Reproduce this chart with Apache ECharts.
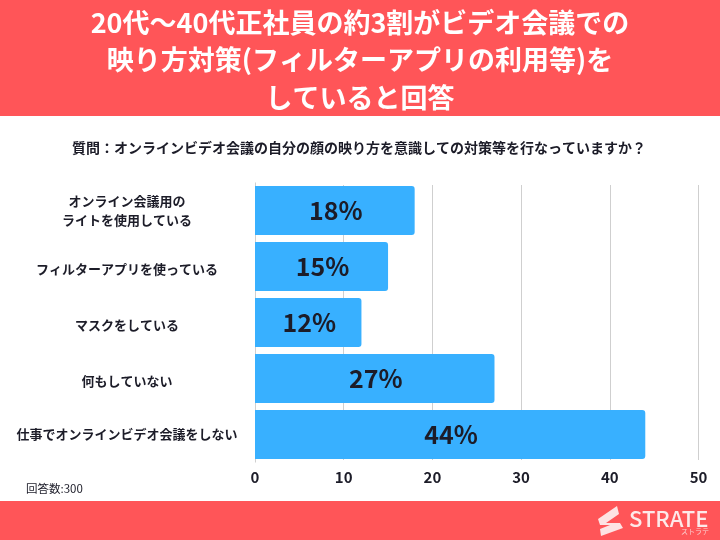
<!DOCTYPE html>
<html>
<head>
<meta charset="utf-8">
<script src="https://cdn.jsdelivr.net/npm/echarts@6/dist/echarts.min.js"></script>
<style>
  html, body { margin: 0; padding: 0; background: #fff; }
  #chart { width: 720px; height: 540px; }
</style>
</head>
<body>
<div id="chart"></div>
<script>
var categories = ['オンライン会議用の\nライトを使用している', 'フィルターアプリを使っている', 'マスクをしている', '何もしていない', '仕事でオンラインビデオ会議をしない']
var values = [18, 15, 12, 27, 44]
var titleText = '20代〜40代正社員の約3割がビデオ会議での\n映り方対策(フィルターアプリの利用等)を\nしていると回答'
var questionText = '質問：オンラインビデオ会議の自分の顔の映り方を意識しての対策等を行なっていますか？'
var noteText = '回答数:300'

var jp = '"Noto Sans CJK JP", sans-serif'
var dark = '#1c1c28'
var red = '#ff5558'

var chart = echarts.init(document.getElementById('chart'), null, { renderer: 'canvas' })

// 真ん中の3つのラベルは少し下げる
var categoryData = categories.map(function (name, i) {
  if (i >= 1 && i <= 3) {
    return { value: name, textStyle: { align: 'center', verticalAlign: 'top', lineHeight: 5 } }
  }
  return name
})

chart.setOption({
  backgroundColor: '#fff',
  animation: false,
  grid: { left: 255, right: 21.5, top: 182.5, bottom: 77.5, outerBoundsMode: 'none' },
  xAxis: {
    type: 'value',
    min: 0,
    max: 50,
    interval: 10,
    axisLine: { show: false },
    axisTick: { show: false },
    axisLabel: { color: dark, fontFamily: jp, fontWeight: 'bold', fontSize: 15, margin: 7 },
    splitLine: { lineStyle: { color: '#cfcfcf', width: 1 } }
  },
  yAxis: {
    type: 'category',
    inverse: true,
    data: categoryData,
    axisLine: { show: false },
    axisTick: { show: false },
    axisLabel: {
      color: dark,
      fontFamily: jp,
      fontWeight: 'bold',
      fontSize: 13,
      lineHeight: 19,
      align: 'center',
      margin: 128
    }
  },
  series: [{
    type: 'bar',
    data: values,
    barWidth: 49,
    itemStyle: { color: '#38b0ff', borderRadius: [0, 3, 3, 0] },
    label: {
      show: true,
      position: 'inside',
      offset: [1, 0],
      formatter: '{c}%',
      color: dark,
      fontFamily: jp,
      fontWeight: 'bold',
      fontSize: 25
    }
  }],
  graphic: [
    { type: 'rect', z: -1, shape: { x: 0, y: 0, width: 720, height: 116 }, style: { fill: red } },
    { type: 'rect', z: -1, shape: { x: 0, y: 501, width: 720, height: 39 }, style: { fill: red } },
    // 罫線の上下をバーに揃える
    { type: 'rect', z: 1, shape: { x: 256, y: 181, width: 450, height: 4 }, style: { fill: '#fff' } },
    { type: 'rect', z: 1, shape: { x: 256, y: 460, width: 450, height: 4 }, style: { fill: '#fff' } },
    { type: 'text', x: 360, y: 60, style: { text: titleText, fill: '#fff', font: 'bold 27px ' + jp, lineHeight: 37.5, align: 'center', verticalAlign: 'middle' } },
    { type: 'text', x: 359, y: 148, style: { text: questionText, fill: dark, font: 'bold 14px ' + jp, align: 'center', verticalAlign: 'middle' } },
    { type: 'text', x: 26, y: 489, style: { text: noteText, fill: dark, font: '11.5px ' + jp, align: 'left', verticalAlign: 'middle' } },
    // ロゴ
    { type: 'polygon', shape: { points: [[598, 519], [617, 506], [619, 514], [606, 523], [620, 523], [623, 528], [601, 536], [600, 529], [610, 525], [600, 525]] }, style: { fill: '#fde3e3' } },
    { type: 'text', x: 629, y: 519, style: { text: 'STRATE', fill: '#fde9e9', font: '500 22px ' + jp, align: 'left', verticalAlign: 'middle' } },
    { type: 'text', x: 681, y: 531, style: { text: 'ストラテ', fill: '#fbd0d0', font: '7px ' + jp, align: 'left', verticalAlign: 'middle' } }
  ]
})
</script>
</body>
</html>
